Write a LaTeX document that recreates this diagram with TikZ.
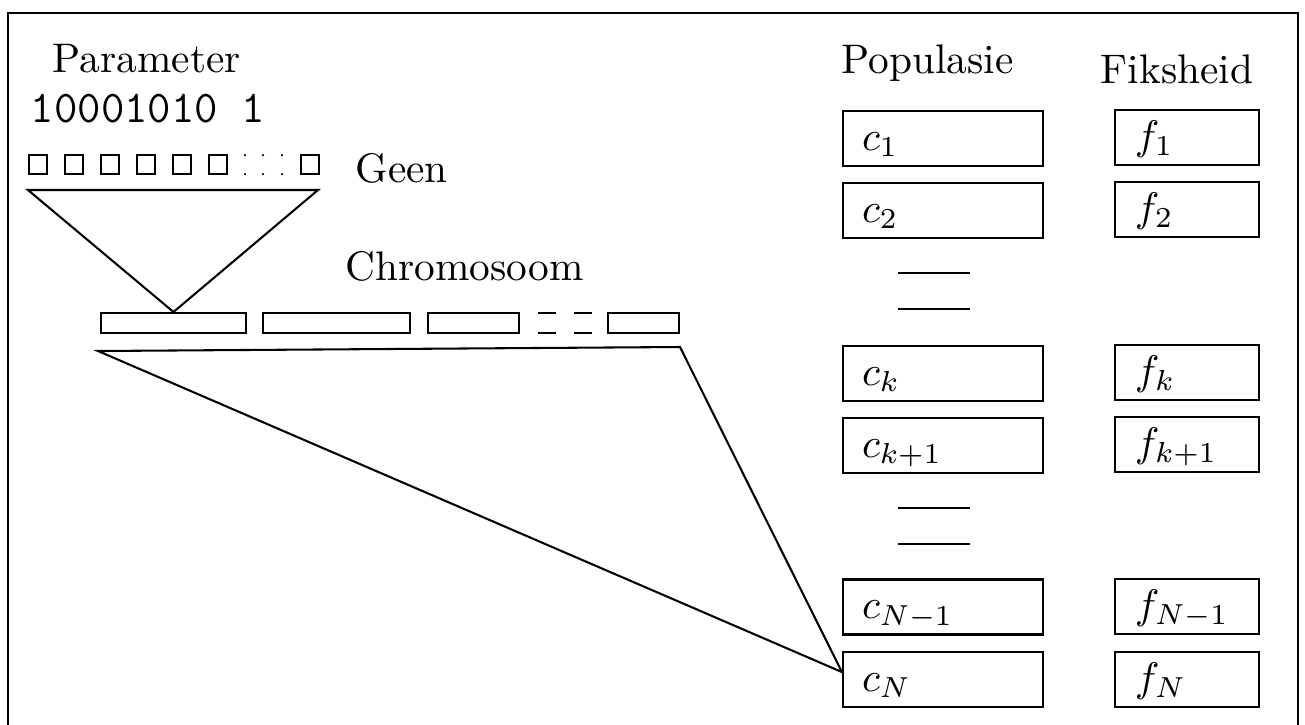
\documentclass[tikz,border=0pt]{standalone}
\begin{document}
\begin{tikzpicture}[x=0.242pt,y=-0.242pt,
  ln/.style={line width=0.5pt},
  lbl/.style={inner sep=0pt, anchor=base west, font=\fontsize{10}{12}\selectfont},
  ttlbl/.style={inner sep=0pt, anchor=base west, font=\fontsize{11}{13}\selectfont\ttfamily},
  cbox/.style={draw, line width=0.5pt, minimum height=13.31pt, text width=39.2pt, inner xsep=4.6pt, inner ysep=0pt, align=left, text height=5.8pt, text depth=0pt},
  fbox/.style={cbox, text width=25.2pt, inner xsep=4.84pt},
  gene/.style={draw, line width=0.5pt, minimum width=4.36pt, minimum height=4.6pt, inner sep=0pt},
  chrom/.style={draw, line width=0.5pt, minimum height=4.84pt, inner sep=0pt}
]
\useasboundingbox (0,0) rectangle (1305,724);
% frame
\draw[line width=0.6pt] (8,726) |- (1298,13) -- (1298,726);

% texts
\node[lbl] (param) at (52,72) {Parameter};
\node[ttlbl] (bits) at (30,122) {10001010 1};
\node[lbl] (geen) at (355,182) {Geen};
\node[lbl] (chromo) at (345,280) {Chromosoom};
\node[lbl] (pop) at (841,73) {Populasie};
\node[lbl] (fik) at (1100,83) {Fiksheid};

% genes
\foreach \x/\n in {38/g1,74/g2,110/g3,146/g4,182/g5,218/g6,310/g7}
  \node[gene] (\n) at (\x,164.5) {};
\foreach \x in {245,263,282}{
  \fill (\x,155) circle (0.3pt);
  \fill (\x,174) circle (0.3pt);
}

% chromosome
\node[chrom, minimum width=35.1pt] (ch1) at (173.5,323) {};
\node[chrom, minimum width=35.6pt] (ch2) at (336.5,323) {};
\node[chrom, minimum width=22pt] (ch3) at (473.5,323) {};
\node[chrom, minimum width=17.4pt] (ch4) at (643.5,323) {};
\draw[ln] (538,313) -- (556,313) (574,313) -- (592,313);
\draw[ln] (538,333) -- (556,333) (574,333) -- (592,333);

% gene triangle
\coordinate (tl) at (28,190);
\coordinate (tr) at (318,190);
\draw[ln] (tl) -- (tr) -- (ch1.north) -- cycle;

% population
\node[cbox] (c1) at (943,138.5) {$c_1$};
\node[cbox] (c2) at (943,210.5) {$c_2$};
\node[cbox] (ck) at (943,373.5) {$c_k$};
\node[cbox] (ck1) at (943,445.5) {$c_{k+1}$};
\node[cbox] (cN1) at (943,607) {$c_{N-1}$};
\node[cbox] (cN) at (943,679.5) {$c_N$};

\node[fbox] (f1) at (1187,137.5) {$f_1$};
\node[fbox] (f2) at (1187,209.5) {$f_2$};
\node[fbox] (fk) at (1187,372.5) {$f_k$};
\node[fbox] (fk1) at (1187,444.5) {$f_{k+1}$};
\node[fbox] (fN1) at (1187,606.5) {$f_{N-1}$};
\node[fbox] (fN) at (1187,679.5) {$f_N$};

\foreach \y in {273,309,508,544}
  \draw[ln] (898,\y) -- (970,\y);

% chromosome triangle
\coordinate (bl) at (98,351);
\coordinate (br) at (680,347);
\draw[ln] (bl) -- (br) -- ([yshift=1.8pt]cN.west) -- cycle;
\end{tikzpicture}
\end{document}
